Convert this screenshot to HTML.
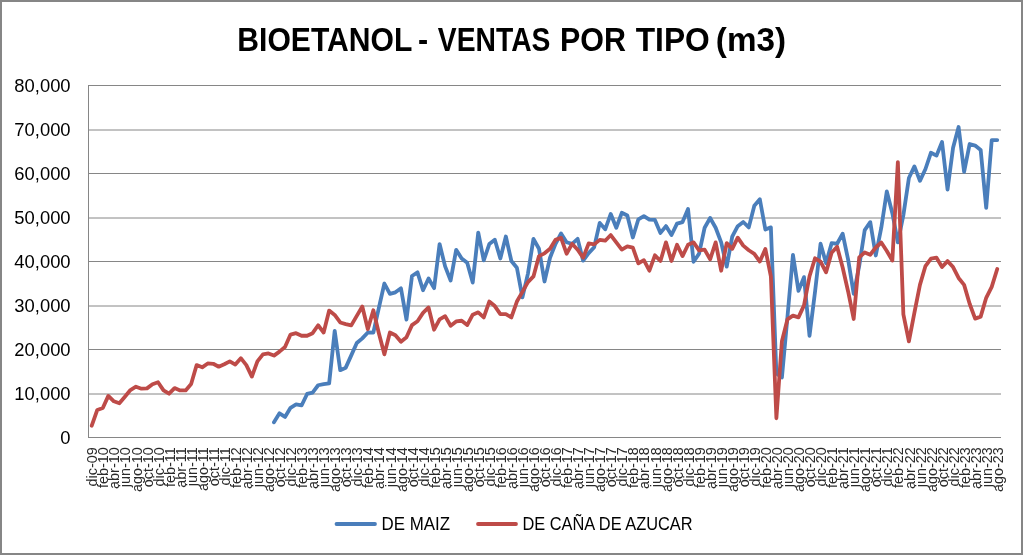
<!DOCTYPE html><html><head><meta charset="utf-8"><style>html,body{margin:0;padding:0;background:#fff}svg{display:block;will-change:transform}text{font-family:"Liberation Sans",sans-serif}</style></head><body>
<svg width="1023" height="555" viewBox="0 0 1023 555">
<rect x="0" y="0" width="1023" height="555" fill="#fff"/>
<rect x="1" y="1" width="1021" height="553" fill="none" stroke="#868686" stroke-width="2"/>
<text x="237.36" y="51" font-weight="bold" font-size="32.5" textLength="174.93" lengthAdjust="spacingAndGlyphs" fill="#000">BIOETANOL</text>
<text x="418.08" y="51" font-weight="bold" font-size="32.5" textLength="10.16" lengthAdjust="spacingAndGlyphs" fill="#000">-</text>
<text x="437.83" y="51" font-weight="bold" font-size="32.5" textLength="112.61" lengthAdjust="spacingAndGlyphs" fill="#000">VENTAS</text>
<text x="559.94" y="51" font-weight="bold" font-size="32.5" textLength="65.95" lengthAdjust="spacingAndGlyphs" fill="#000">POR</text>
<text x="635.71" y="51" font-weight="bold" font-size="32.5" textLength="74.1" lengthAdjust="spacingAndGlyphs" fill="#000">TIPO</text>
<text x="715.86" y="51" font-weight="bold" font-size="32.5" textLength="70.19" lengthAdjust="spacingAndGlyphs" fill="#000">(m3)</text>
<line x1="88" y1="85.5" x2="1001" y2="85.5" stroke="#868686" stroke-width="1"/>
<line x1="88" y1="130.0" x2="1001" y2="130.0" stroke="#868686" stroke-width="1"/>
<line x1="88" y1="173.5" x2="1001" y2="173.5" stroke="#868686" stroke-width="1"/>
<line x1="88" y1="218.0" x2="1001" y2="218.0" stroke="#868686" stroke-width="1"/>
<line x1="88" y1="261.5" x2="1001" y2="261.5" stroke="#868686" stroke-width="1"/>
<line x1="88" y1="306.0" x2="1001" y2="306.0" stroke="#868686" stroke-width="1"/>
<line x1="88" y1="349.5" x2="1001" y2="349.5" stroke="#868686" stroke-width="1"/>
<line x1="88" y1="394.0" x2="1001" y2="394.0" stroke="#868686" stroke-width="1"/>
<line x1="88" y1="437.5" x2="1001" y2="437.5" stroke="#868686" stroke-width="1"/>
<line x1="88.5" y1="85" x2="88.5" y2="438" stroke="#868686" stroke-width="1"/>
<text x="70.6" y="91.8" text-anchor="end" font-size="18.4" fill="#000">80,000</text>
<text x="70.6" y="135.8" text-anchor="end" font-size="18.4" fill="#000">70,000</text>
<text x="70.6" y="179.8" text-anchor="end" font-size="18.4" fill="#000">60,000</text>
<text x="70.6" y="223.8" text-anchor="end" font-size="18.4" fill="#000">50,000</text>
<text x="70.6" y="267.8" text-anchor="end" font-size="18.4" fill="#000">40,000</text>
<text x="70.6" y="311.8" text-anchor="end" font-size="18.4" fill="#000">30,000</text>
<text x="70.6" y="355.8" text-anchor="end" font-size="18.4" fill="#000">20,000</text>
<text x="70.6" y="399.8" text-anchor="end" font-size="18.4" fill="#000">10,000</text>
<text x="70.6" y="443.8" text-anchor="end" font-size="18.4" fill="#000">0</text>
<g fill="#2a2a2a"><text transform="translate(97.36,447.3) rotate(-90)" text-anchor="end" font-size="14.4">dic-09</text><text transform="translate(108.40,447.3) rotate(-90)" text-anchor="end" font-size="14.4">feb-10</text><text transform="translate(119.45,447.3) rotate(-90)" text-anchor="end" font-size="14.4">abr-10</text><text transform="translate(130.49,447.3) rotate(-90)" text-anchor="end" font-size="14.4">jun-10</text><text transform="translate(141.53,447.3) rotate(-90)" text-anchor="end" font-size="14.4">ago-10</text><text transform="translate(152.57,447.3) rotate(-90)" text-anchor="end" font-size="14.4">oct-10</text><text transform="translate(163.62,447.3) rotate(-90)" text-anchor="end" font-size="14.4">dic-10</text><text transform="translate(174.66,447.3) rotate(-90)" text-anchor="end" font-size="14.4">feb-11</text><text transform="translate(185.70,447.3) rotate(-90)" text-anchor="end" font-size="14.4">abr-11</text><text transform="translate(196.74,447.3) rotate(-90)" text-anchor="end" font-size="14.4">jun-11</text><text transform="translate(207.78,447.3) rotate(-90)" text-anchor="end" font-size="14.4">ago-11</text><text transform="translate(218.83,447.3) rotate(-90)" text-anchor="end" font-size="14.4">oct-11</text><text transform="translate(229.87,447.3) rotate(-90)" text-anchor="end" font-size="14.4">dic-11</text><text transform="translate(240.91,447.3) rotate(-90)" text-anchor="end" font-size="14.4">feb-12</text><text transform="translate(251.95,447.3) rotate(-90)" text-anchor="end" font-size="14.4">abr-12</text><text transform="translate(263.00,447.3) rotate(-90)" text-anchor="end" font-size="14.4">jun-12</text><text transform="translate(274.04,447.3) rotate(-90)" text-anchor="end" font-size="14.4">ago-12</text><text transform="translate(285.08,447.3) rotate(-90)" text-anchor="end" font-size="14.4">oct-12</text><text transform="translate(296.12,447.3) rotate(-90)" text-anchor="end" font-size="14.4">dic-12</text><text transform="translate(307.17,447.3) rotate(-90)" text-anchor="end" font-size="14.4">feb-13</text><text transform="translate(318.21,447.3) rotate(-90)" text-anchor="end" font-size="14.4">abr-13</text><text transform="translate(329.25,447.3) rotate(-90)" text-anchor="end" font-size="14.4">jun-13</text><text transform="translate(340.29,447.3) rotate(-90)" text-anchor="end" font-size="14.4">ago-13</text><text transform="translate(351.34,447.3) rotate(-90)" text-anchor="end" font-size="14.4">oct-13</text><text transform="translate(362.38,447.3) rotate(-90)" text-anchor="end" font-size="14.4">dic-13</text><text transform="translate(373.42,447.3) rotate(-90)" text-anchor="end" font-size="14.4">feb-14</text><text transform="translate(384.46,447.3) rotate(-90)" text-anchor="end" font-size="14.4">abr-14</text><text transform="translate(395.51,447.3) rotate(-90)" text-anchor="end" font-size="14.4">jun-14</text><text transform="translate(406.55,447.3) rotate(-90)" text-anchor="end" font-size="14.4">ago-14</text><text transform="translate(417.59,447.3) rotate(-90)" text-anchor="end" font-size="14.4">oct-14</text><text transform="translate(428.63,447.3) rotate(-90)" text-anchor="end" font-size="14.4">dic-14</text><text transform="translate(439.68,447.3) rotate(-90)" text-anchor="end" font-size="14.4">feb-15</text><text transform="translate(450.72,447.3) rotate(-90)" text-anchor="end" font-size="14.4">abr-15</text><text transform="translate(461.76,447.3) rotate(-90)" text-anchor="end" font-size="14.4">jun-15</text><text transform="translate(472.80,447.3) rotate(-90)" text-anchor="end" font-size="14.4">ago-15</text><text transform="translate(483.85,447.3) rotate(-90)" text-anchor="end" font-size="14.4">oct-15</text><text transform="translate(494.89,447.3) rotate(-90)" text-anchor="end" font-size="14.4">dic-15</text><text transform="translate(505.93,447.3) rotate(-90)" text-anchor="end" font-size="14.4">feb-16</text><text transform="translate(516.97,447.3) rotate(-90)" text-anchor="end" font-size="14.4">abr-16</text><text transform="translate(528.02,447.3) rotate(-90)" text-anchor="end" font-size="14.4">jun-16</text><text transform="translate(539.06,447.3) rotate(-90)" text-anchor="end" font-size="14.4">ago-16</text><text transform="translate(550.10,447.3) rotate(-90)" text-anchor="end" font-size="14.4">oct-16</text><text transform="translate(561.14,447.3) rotate(-90)" text-anchor="end" font-size="14.4">dic-16</text><text transform="translate(572.18,447.3) rotate(-90)" text-anchor="end" font-size="14.4">feb-17</text><text transform="translate(583.23,447.3) rotate(-90)" text-anchor="end" font-size="14.4">abr-17</text><text transform="translate(594.27,447.3) rotate(-90)" text-anchor="end" font-size="14.4">jun-17</text><text transform="translate(605.31,447.3) rotate(-90)" text-anchor="end" font-size="14.4">ago-17</text><text transform="translate(616.35,447.3) rotate(-90)" text-anchor="end" font-size="14.4">oct-17</text><text transform="translate(627.40,447.3) rotate(-90)" text-anchor="end" font-size="14.4">dic-17</text><text transform="translate(638.44,447.3) rotate(-90)" text-anchor="end" font-size="14.4">feb-18</text><text transform="translate(649.48,447.3) rotate(-90)" text-anchor="end" font-size="14.4">abr-18</text><text transform="translate(660.52,447.3) rotate(-90)" text-anchor="end" font-size="14.4">jun-18</text><text transform="translate(671.57,447.3) rotate(-90)" text-anchor="end" font-size="14.4">ago-18</text><text transform="translate(682.61,447.3) rotate(-90)" text-anchor="end" font-size="14.4">oct-18</text><text transform="translate(693.65,447.3) rotate(-90)" text-anchor="end" font-size="14.4">dic-18</text><text transform="translate(704.69,447.3) rotate(-90)" text-anchor="end" font-size="14.4">feb-19</text><text transform="translate(715.74,447.3) rotate(-90)" text-anchor="end" font-size="14.4">abr-19</text><text transform="translate(726.78,447.3) rotate(-90)" text-anchor="end" font-size="14.4">jun-19</text><text transform="translate(737.82,447.3) rotate(-90)" text-anchor="end" font-size="14.4">ago-19</text><text transform="translate(748.86,447.3) rotate(-90)" text-anchor="end" font-size="14.4">oct-19</text><text transform="translate(759.91,447.3) rotate(-90)" text-anchor="end" font-size="14.4">dic-19</text><text transform="translate(770.95,447.3) rotate(-90)" text-anchor="end" font-size="14.4">feb-20</text><text transform="translate(781.99,447.3) rotate(-90)" text-anchor="end" font-size="14.4">abr-20</text><text transform="translate(793.03,447.3) rotate(-90)" text-anchor="end" font-size="14.4">jun-20</text><text transform="translate(804.08,447.3) rotate(-90)" text-anchor="end" font-size="14.4">ago-20</text><text transform="translate(815.12,447.3) rotate(-90)" text-anchor="end" font-size="14.4">oct-20</text><text transform="translate(826.16,447.3) rotate(-90)" text-anchor="end" font-size="14.4">dic-20</text><text transform="translate(837.20,447.3) rotate(-90)" text-anchor="end" font-size="14.4">feb-21</text><text transform="translate(848.25,447.3) rotate(-90)" text-anchor="end" font-size="14.4">abr-21</text><text transform="translate(859.29,447.3) rotate(-90)" text-anchor="end" font-size="14.4">jun-21</text><text transform="translate(870.33,447.3) rotate(-90)" text-anchor="end" font-size="14.4">ago-21</text><text transform="translate(881.37,447.3) rotate(-90)" text-anchor="end" font-size="14.4">oct-21</text><text transform="translate(892.42,447.3) rotate(-90)" text-anchor="end" font-size="14.4">dic-21</text><text transform="translate(903.46,447.3) rotate(-90)" text-anchor="end" font-size="14.4">feb-22</text><text transform="translate(914.50,447.3) rotate(-90)" text-anchor="end" font-size="14.4">abr-22</text><text transform="translate(925.54,447.3) rotate(-90)" text-anchor="end" font-size="14.4">jun-22</text><text transform="translate(936.58,447.3) rotate(-90)" text-anchor="end" font-size="14.4">ago-22</text><text transform="translate(947.63,447.3) rotate(-90)" text-anchor="end" font-size="14.4">oct-22</text><text transform="translate(958.67,447.3) rotate(-90)" text-anchor="end" font-size="14.4">dic-22</text><text transform="translate(969.71,447.3) rotate(-90)" text-anchor="end" font-size="14.4">feb-23</text><text transform="translate(980.75,447.3) rotate(-90)" text-anchor="end" font-size="14.4">abr-23</text><text transform="translate(991.80,447.3) rotate(-90)" text-anchor="end" font-size="14.4">jun-23</text><text transform="translate(1002.84,447.3) rotate(-90)" text-anchor="end" font-size="14.4">ago-23</text></g>
<polyline points="273.96,422.28 279.48,413.37 285.00,416.93 290.52,407.82 296.05,404.46 301.57,405.45 307.09,393.96 312.61,392.58 318.13,385.25 323.65,384.06 329.17,383.27 334.69,330.85 340.22,370.17 345.74,367.65 351.26,355.37 356.78,343.04 362.30,338.35 367.82,332.52 373.34,332.71 378.86,307.80 384.38,283.53 389.91,293.93 395.43,292.34 400.95,288.29 406.47,319.57 411.99,276.02 417.51,272.33 423.03,290.27 428.55,278.55 434.08,288.17 439.60,244.08 445.12,266.41 450.64,280.46 456.16,249.84 461.68,258.48 467.20,262.81 472.72,282.55 478.25,232.55 483.77,260.36 489.29,244.08 494.81,239.75 500.33,258.48 505.85,236.52 511.37,261.02 516.89,267.73 522.42,297.35 527.94,273.56 533.46,238.87 538.98,248.78 544.50,281.49 550.02,257.70 555.54,243.82 561.06,233.52 566.58,242.24 572.11,243.82 577.63,238.87 583.15,260.67 588.67,253.12 594.19,247.19 599.71,222.87 605.23,229.35 610.75,213.95 616.28,227.73 621.80,212.81 627.32,215.57 632.84,237.46 638.36,219.30 643.88,216.06 649.40,219.62 654.92,219.95 660.45,232.92 665.97,226.11 671.49,235.03 677.01,223.68 682.53,222.06 688.05,209.08 693.57,261.79 699.09,253.68 704.62,227.73 710.14,218.00 715.66,227.73 721.18,242.33 726.70,266.65 732.22,236.65 737.74,226.20 743.26,222.01 748.78,227.37 754.31,205.73 759.83,199.24 765.35,229.53 770.87,227.37 776.39,373.54 781.91,377.51 787.43,317.42 792.95,254.86 798.48,290.84 804.00,277.13 809.52,335.80 815.04,291.69 820.56,243.74 826.08,263.19 831.60,243.15 837.12,243.76 842.65,233.67 848.17,259.89 853.69,293.81 859.21,265.95 864.73,230.06 870.25,222.13 875.77,255.50 881.29,227.73 886.82,191.38 892.34,213.17 897.86,242.32 903.38,215.10 908.90,177.96 914.42,166.43 919.94,180.84 925.46,169.01 930.98,152.73 936.51,155.62 942.03,141.92 947.55,189.61 953.07,147.69 958.59,126.97 964.11,171.77 969.63,144.01 975.15,145.60 980.68,149.96 986.20,207.77 991.72,140.05 997.24,140.05" fill="none" stroke="#4a7ebb" stroke-width="3.8" stroke-linejoin="round" stroke-linecap="round"/>
<polyline points="91.76,425.71 97.28,409.95 102.80,407.96 108.32,395.86 113.85,401.33 119.37,403.32 124.89,396.68 130.41,390.05 135.93,386.73 141.45,388.72 146.97,388.39 152.49,384.25 158.02,382.26 163.54,390.38 169.06,393.70 174.58,388.06 180.10,390.45 185.62,390.45 191.14,384.04 196.66,365.08 202.18,367.35 207.71,363.46 213.23,363.78 218.75,366.70 224.27,364.27 229.79,361.35 235.31,364.59 240.83,358.18 246.35,365.08 251.88,376.58 257.40,361.38 262.92,354.37 268.44,353.41 273.96,355.61 279.48,351.60 285.00,347.03 290.52,334.56 296.05,333.17 301.57,335.75 307.09,335.75 312.61,333.17 318.13,325.25 323.65,332.58 329.17,310.57 334.69,314.89 340.22,322.46 345.74,324.08 351.26,325.38 356.78,315.89 362.30,306.57 367.82,329.27 373.34,310.25 378.86,333.31 384.38,354.35 389.91,332.52 395.43,335.21 400.95,341.79 406.47,337.33 411.99,325.10 417.51,321.19 423.03,312.83 428.55,307.47 434.08,329.69 439.60,319.31 445.12,316.14 450.64,325.80 456.16,321.47 461.68,320.75 467.20,325.07 472.72,314.67 478.25,312.37 483.77,317.42 489.29,301.56 494.81,306.07 500.33,314.17 505.85,314.17 511.37,317.42 516.89,301.56 522.42,291.89 527.94,282.07 533.46,276.43 538.98,256.12 544.50,253.32 550.02,248.78 555.54,239.86 561.06,237.88 566.58,253.74 572.11,243.82 577.63,249.77 583.15,257.70 588.67,243.48 594.19,244.38 599.71,239.89 605.23,240.71 610.75,235.03 616.28,242.33 621.80,249.62 627.32,246.38 632.84,247.52 638.36,263.41 643.88,260.16 649.40,270.71 654.92,255.30 660.45,260.98 665.97,242.33 671.49,260.98 677.01,244.76 682.53,256.11 688.05,244.76 693.57,242.33 699.09,250.44 704.62,249.62 710.14,259.35 715.66,242.33 721.18,270.71 726.70,243.14 732.22,248.81 737.74,237.69 743.26,245.66 748.78,250.26 754.31,253.78 759.83,261.56 765.35,248.93 770.87,276.27 776.39,418.23 781.91,341.11 787.43,319.44 792.95,315.67 798.48,317.39 804.00,305.40 809.52,276.27 815.04,258.29 820.56,261.71 826.08,272.36 831.60,252.74 837.12,246.72 842.65,267.52 848.17,291.72 853.69,318.95 859.21,257.33 864.73,252.44 870.25,254.74 875.77,247.48 881.29,242.53 886.82,251.00 892.34,260.57 897.86,162.10 903.38,314.46 908.90,341.38 914.42,312.64 919.94,284.89 925.46,266.07 930.98,258.53 936.51,257.74 942.03,267.06 947.55,261.11 953.07,267.06 958.59,277.96 964.11,284.89 969.63,303.72 975.15,318.59 980.68,316.61 986.20,297.78 991.72,286.88 997.24,269.04" fill="none" stroke="#be4b48" stroke-width="3.8" stroke-linejoin="round" stroke-linecap="round"/>
<line x1="336.5" y1="524" x2="375" y2="524" stroke="#4a7ebb" stroke-width="3.8" stroke-linecap="round"/>
<text x="381.5" y="529.7" font-size="17.5" textLength="68.5" lengthAdjust="spacingAndGlyphs" fill="#000">DE MAIZ</text>
<line x1="478" y1="524" x2="516" y2="524" stroke="#be4b48" stroke-width="3.8" stroke-linecap="round"/>
<text x="522.4" y="529.7" font-size="17.5" textLength="170.2" lengthAdjust="spacingAndGlyphs" fill="#000">DE CAÑA DE AZUCAR</text>
</svg></body></html>
